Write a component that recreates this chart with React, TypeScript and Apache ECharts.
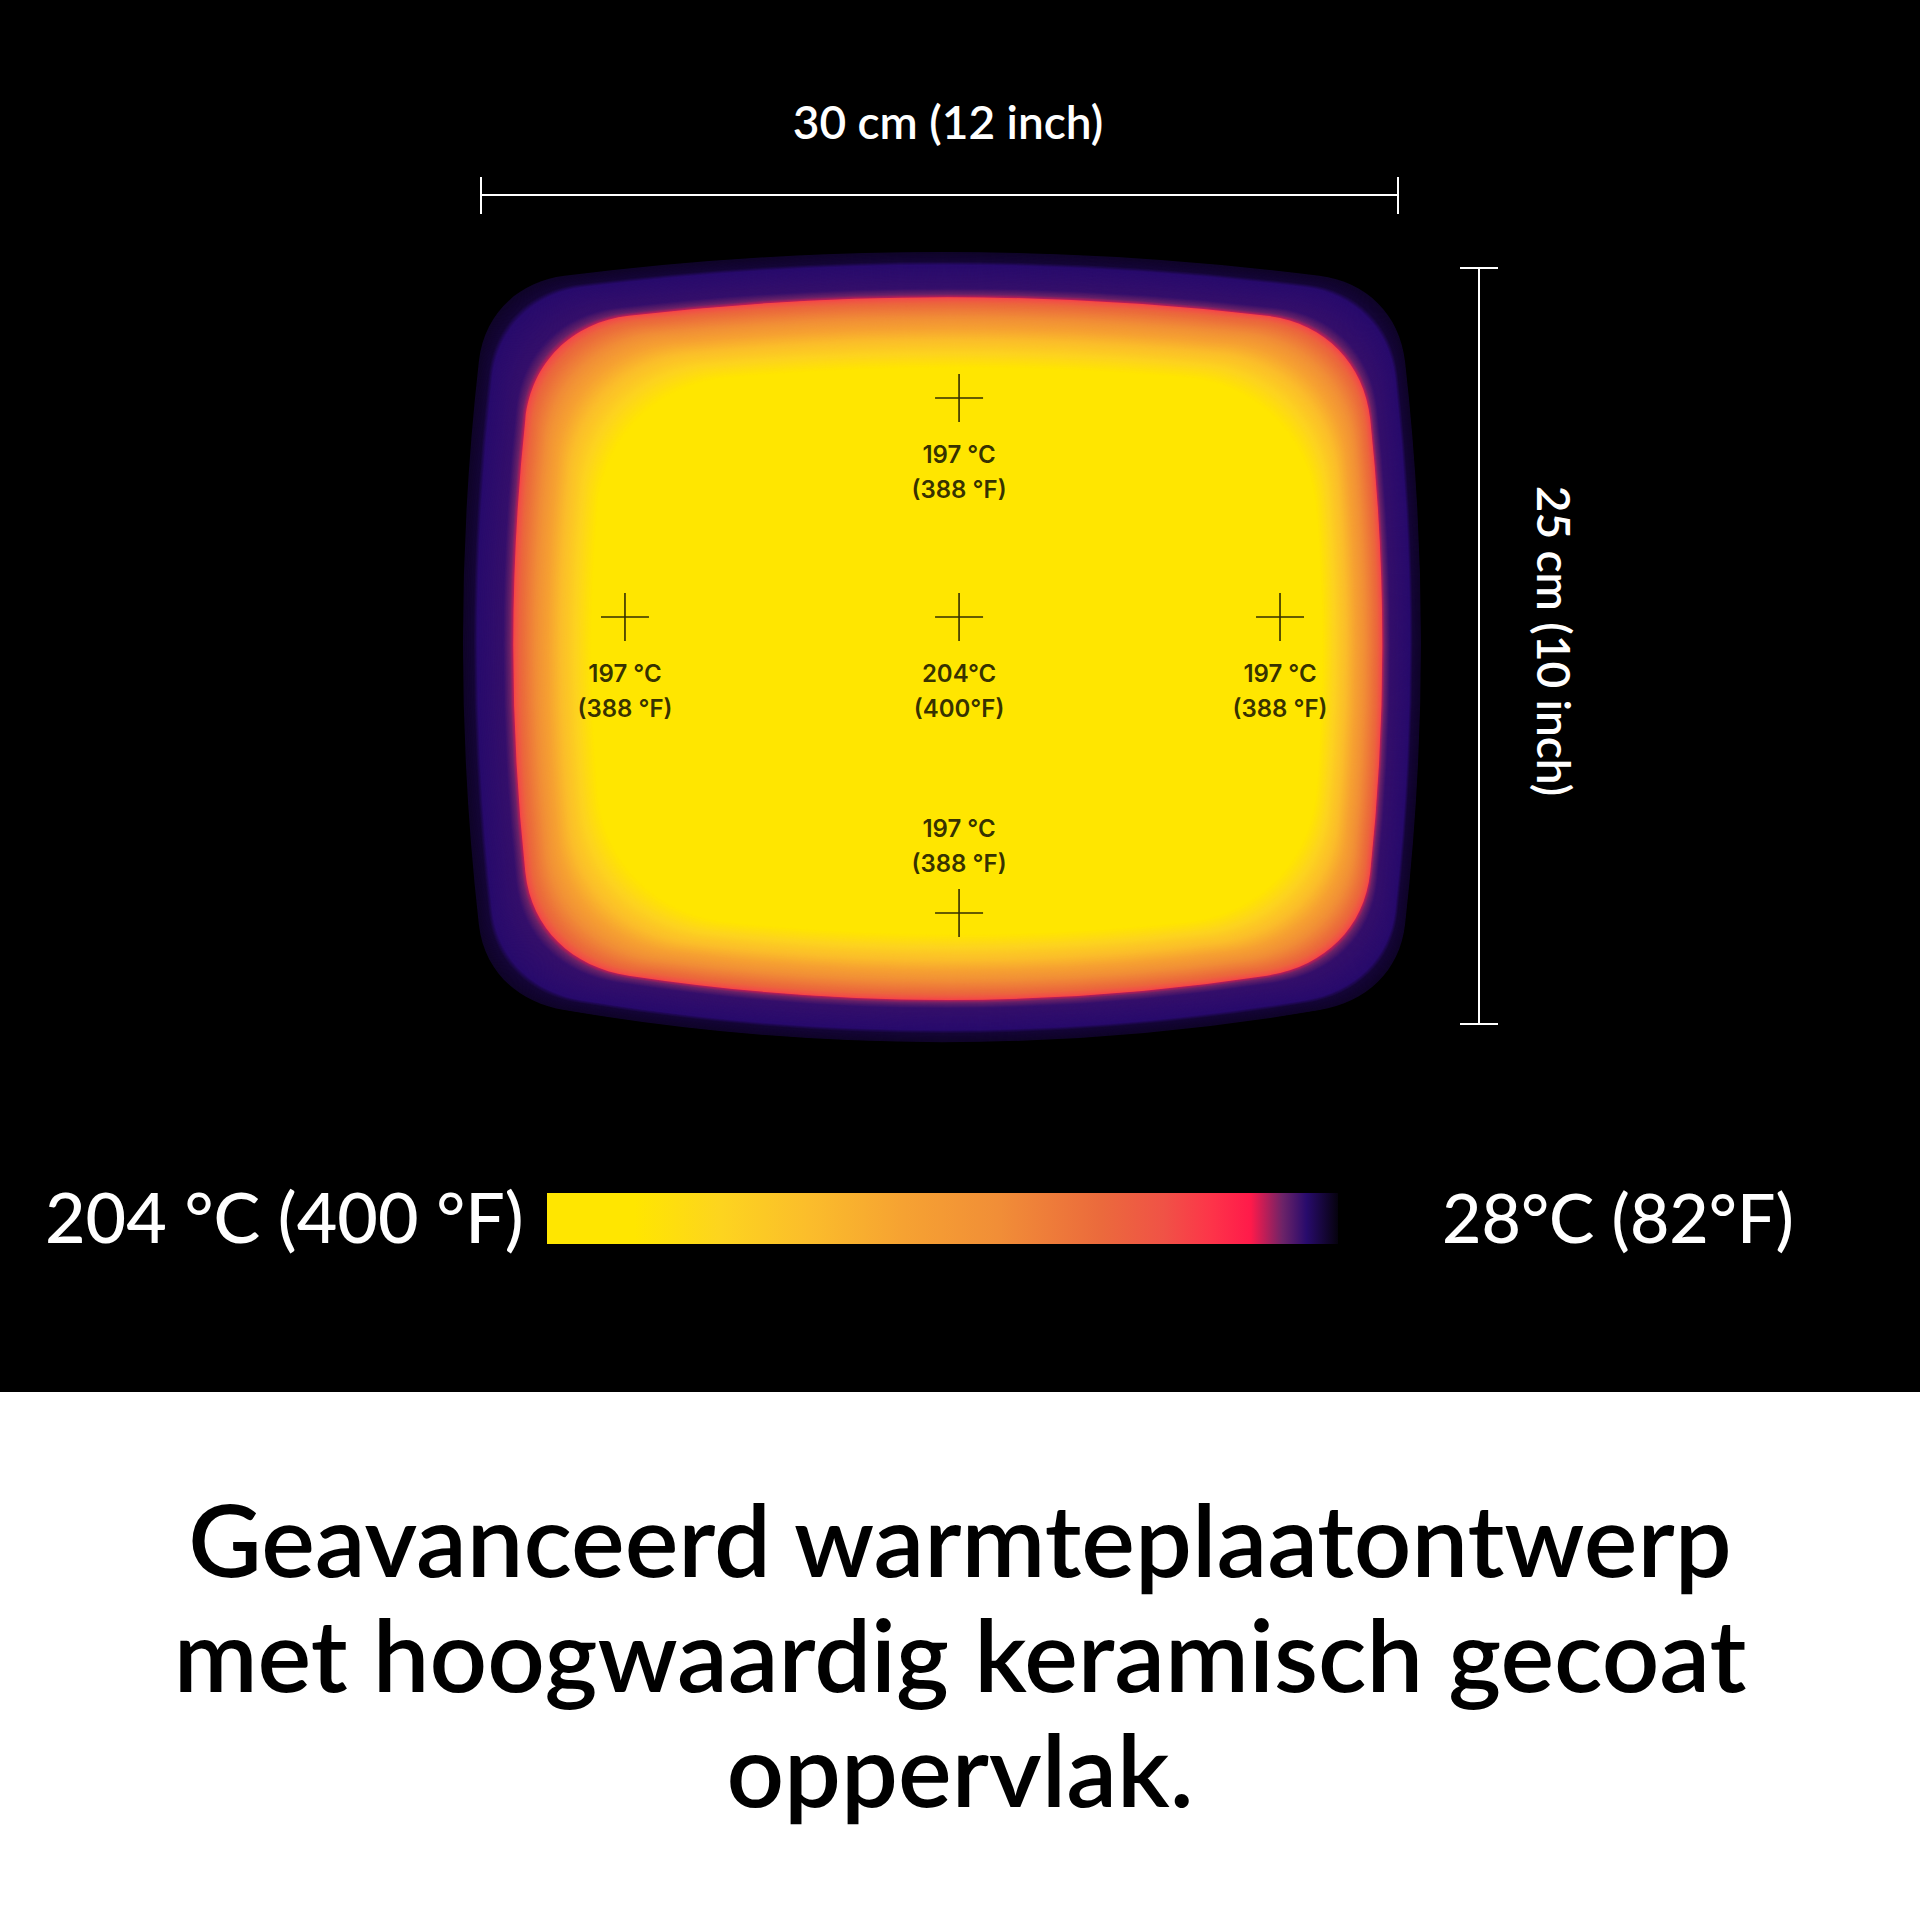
import React, { useEffect, useRef } from 'react';
import * as echarts from 'echarts';

// ---- plate size (cm) and measured points ----
const PLATE_WIDTH_CM = 30;
const PLATE_HEIGHT_CM = 25;
const WIDTH_LABEL = '30 cm (12 inch)';
const HEIGHT_LABEL = '25 cm (10 inch)';

const POINT_X = [15.64, 4.71, 15.64, 26.14, 15.64];
const POINT_Y = [4.3, 11.54, 11.54, 11.54, 21.33];
const POINT_C = ['197 °C', '197 °C', '204°C', '197 °C', '197 °C'];
const POINT_F = ['(388 °F)', '(388 °F)', '(400°F)', '(388 °F)', '(388 °F)'];
const POINT_LABEL_POS = ['bottom', 'bottom', 'bottom', 'bottom', 'top'];

// ---- colour scale (°C -> colour) ----
const SCALE_MAX_LABEL = '204 °C (400 °F)';
const SCALE_MIN_LABEL = '28°C (82°F)';
const SCALE_MAX = 204;
const SCALE_MIN = 28;
const RAMP_TEMP = [204, 184.6, 165.3, 145.9, 124.8, 103.7, 80.8, 66.7, 56.2, 47.4, 40.3, 35.0, 28];
const RAMP_COLOR = ['#ffe600', '#ffe600', '#fdd41f', '#fbbd2b', '#f6a232', '#f18e37', '#eb6a3c', '#f05246', '#fd3449', '#ff1a4a', '#6c2368', '#280b6c', '#06020e'];

// ---- thermal field: temperature against depth from plate edge (0 = edge, 1 = hot core) ----
const PROFILE_DEPTH = [0, 0.08, 0.11, 0.31, 0.36, 0.385, 0.39, 0.44, 0.56, 0.75, 1.0];
const PROFILE_TEMP = [30, 31, 35, 36, 40, 44, 62, 78, 103, 145, 185];

// outlines in cm: left, top, right, bottom, bulgeTop, bulgeRight, bulgeBottom, bulgeLeft, cornerRadius
const OUTER_EDGE = [-0.59, -0.53, 30.75, 25.6, 0.79, 0.52, 1.06, 0.52, 2.8];
const CORE_EDGE = [3.63, 3.31, 27.51, 22.02, 0.33, 0.2, 0.4, 0.2, 4.3];

const TITLE_LINES = ['Geavanceerd warmteplaatontwerp', 'met hoogwaardig keramisch gecoat', 'oppervlak.'];

const LAYER_COUNT = 200;

function interp(xs: number[], ys: number[], x: number): number {
  if (x <= xs[0]) return ys[0];
  for (let i = 1; i < xs.length; i++) {
    if (x <= xs[i]) {
      const f = (x - xs[i - 1]) / (xs[i] - xs[i - 1]);
      return ys[i - 1] + (ys[i] - ys[i - 1]) * f;
    }
  }
  return ys[ys.length - 1];
}

function hexToRgb(h: string) {
  return [parseInt(h.slice(1, 3), 16), parseInt(h.slice(3, 5), 16), parseInt(h.slice(5, 7), 16)];
}

function rampColor(temp: number): string {
  let i = 1;
  while (i < RAMP_TEMP.length - 1 && temp < RAMP_TEMP[i]) i++;
  const t0 = RAMP_TEMP[i - 1];
  const t1 = RAMP_TEMP[i];
  let f = (t0 - temp) / (t0 - t1);
  f = Math.max(0, Math.min(1, f));
  const a = hexToRgb(RAMP_COLOR[i - 1]);
  const b = hexToRgb(RAMP_COLOR[i]);
  const c = a.map((v, k) => Math.round(v + (b[k] - v) * f));
  return `rgb(${c[0]},${c[1]},${c[2]})`;
}

function unit(dx: number, dy: number) {
  const l = Math.hypot(dx, dy) || 1;
  return [dx / l, dy / l];
}

function outlinePath(L: number, T: number, R: number, B: number, bt: number, br: number, bb: number, bl: number, r: number): string {
  const Ls = L + bl, Rs = R - br, Ts = T + bt, Bs = B - bb;
  const k = 0.5523 * r;
  const cx = (Ls + Rs) / 2, cy = (Ts + Bs) / 2;
  const cTop = [cx, Ts - 2 * bt];
  const cRight = [Rs + 2 * br, cy];
  const cBottom = [cx, Bs + 2 * bb];
  const cLeft = [Ls - 2 * bl, cy];
  const pts = {
    tlT: [Ls + r, Ts], trT: [Rs - r, Ts],
    trR: [Rs, Ts + r], brR: [Rs, Bs - r],
    brB: [Rs - r, Bs], blB: [Ls + r, Bs],
    blL: [Ls, Bs - r], tlL: [Ls, Ts + r],
  };
  const corner = (pEnd: number[], cPrev: number[], pStart: number[], cNext: number[]) => {
    const u1 = unit(pEnd[0] - cPrev[0], pEnd[1] - cPrev[1]);
    const u2 = unit(cNext[0] - pStart[0], cNext[1] - pStart[1]);
    const c1 = [pEnd[0] + u1[0] * k, pEnd[1] + u1[1] * k];
    const c2 = [pStart[0] - u2[0] * k, pStart[1] - u2[1] * k];
    return `C${c1[0].toFixed(2)} ${c1[1].toFixed(2)} ${c2[0].toFixed(2)} ${c2[1].toFixed(2)} ${pStart[0].toFixed(2)} ${pStart[1].toFixed(2)}`;
  };
  const q = (c: number[], p: number[]) => `Q${c[0].toFixed(2)} ${c[1].toFixed(2)} ${p[0].toFixed(2)} ${p[1].toFixed(2)}`;
  return [
    `M${pts.tlT[0].toFixed(2)} ${pts.tlT[1].toFixed(2)}`,
    q(cTop, pts.trT),
    corner(pts.trT, cTop, pts.trR, cRight),
    q(cRight, pts.brR),
    corner(pts.brR, cRight, pts.brB, cBottom),
    q(cBottom, pts.blB),
    corner(pts.blB, cBottom, pts.blL, cLeft),
    q(cLeft, pts.tlL),
    corner(pts.tlL, cLeft, pts.tlT, cTop),
    'Z',
  ].join(' ');
}

const GRID_LEFT = 481;
const GRID_TOP = 268;
const GRID_W = 917;
const GRID_H = 756;

export default function App() {
  const ref = useRef<HTMLDivElement>(null);
  useEffect(() => {
    if (!ref.current) return;
    const chart = echarts.init(ref.current, undefined, { renderer: 'svg' });

    const layers: number[][] = [];
    for (let i = 0; i <= LAYER_COUNT; i++) {
      const t = i / LAYER_COUNT;
      layers.push([t, interp(PROFILE_DEPTH, PROFILE_TEMP, t)]);
    }

    const stops = RAMP_TEMP.map((tmp, i) => ({ offset: (SCALE_MAX - tmp) / (SCALE_MAX - SCALE_MIN), color: RAMP_COLOR[i] }));

    const font = (w: number | string, s: number, fam = 'Lato') => `${w} ${s}px ${fam}`;
    const txt = (text: string, x: number, y: number, f: string, fill: string, align = 'center', extra: any = {}) => ({
      type: 'text', x, y, z: 10, silent: true, ...extra,
      style: { text, font: f, fill, align, textAlign: align, verticalAlign: 'middle', textVerticalAlign: 'middle' },
    });

    const barX = 547, barY = 1193, barW = 791, barH = 51;

    chart.setOption({
      animation: false,
      backgroundColor: '#000',
      grid: { left: GRID_LEFT, top: GRID_TOP, width: GRID_W, height: GRID_H },
      xAxis: { type: 'value', min: 0, max: PLATE_WIDTH_CM, show: false },
      yAxis: { type: 'value', min: 0, max: PLATE_HEIGHT_CM, inverse: true, show: false },
      graphic: [
        { type: 'rect', z: 1, silent: true, shape: { x: 0, y: 1392, width: 1920, height: 528 }, style: { fill: '#fff' } },
        // width dimension
        { type: 'line', z: 10, silent: true, shape: { x1: GRID_LEFT, y1: 195, x2: GRID_LEFT + GRID_W, y2: 195 }, style: { stroke: '#fff', lineWidth: 2 } },
        { type: 'line', z: 10, silent: true, shape: { x1: GRID_LEFT, y1: 177, x2: GRID_LEFT, y2: 214 }, style: { stroke: '#fff', lineWidth: 2 } },
        { type: 'line', z: 10, silent: true, shape: { x1: GRID_LEFT + GRID_W, y1: 177, x2: GRID_LEFT + GRID_W, y2: 214 }, style: { stroke: '#fff', lineWidth: 2 } },
        // height dimension
        { type: 'line', z: 10, silent: true, shape: { x1: 1479, y1: GRID_TOP, x2: 1479, y2: GRID_TOP + GRID_H }, style: { stroke: '#fff', lineWidth: 2 } },
        { type: 'line', z: 10, silent: true, shape: { x1: 1460, y1: GRID_TOP, x2: 1498, y2: GRID_TOP }, style: { stroke: '#fff', lineWidth: 2 } },
        { type: 'line', z: 10, silent: true, shape: { x1: 1460, y1: GRID_TOP + GRID_H, x2: 1498, y2: GRID_TOP + GRID_H }, style: { stroke: '#fff', lineWidth: 2 } },
        txt(WIDTH_LABEL, 948, 121, font(600, 46), '#fff'),
        txt(HEIGHT_LABEL, 1554, 641, font(600, 46), '#fff', 'center', { rotation: -Math.PI / 2 }),
        // colour scale
        {
          type: 'rect', z: 10, silent: true,
          shape: { x: barX, y: barY, width: barW, height: barH },
          style: { fill: { type: 'linear', x: 0, y: 0, x2: 1, y2: 0, colorStops: stops } },
        },
        txt(SCALE_MAX_LABEL, 45, 1216, font(500, 70), '#fff', 'left'),
        txt(SCALE_MIN_LABEL, 1442, 1216, font(500, 68), '#fff', 'left'),
        // title
        ...TITLE_LINES.map((line, i) => txt(line, 960, 1538 + i * 115, font(600, 101), '#000')),
      ],
      series: [
        {
          type: 'custom',
          z: 1,
          silent: true,
          clip: false,
          data: layers,
          renderItem: (params: any, api: any) => {
            const t = api.value(0);
            const temp = api.value(1);
            const g = OUTER_EDGE.map((o, k) => o + (CORE_EDGE[k] - o) * t);
            const tl = api.coord([g[0], g[1]]);
            const br = api.coord([g[2], g[3]]);
            const bt = api.size([0, g[4]])[1];
            const bR = api.size([g[5], 0])[0];
            const bb = api.size([0, g[6]])[1];
            const bl = api.size([g[7], 0])[0];
            const r = api.size([g[8], 0])[0];
            return {
              type: 'path',
              shape: { pathData: outlinePath(tl[0], tl[1], br[0], br[1], bt, bR, bb, bl, r) },
              style: { fill: rampColor(temp) },
            };
          },
        },
        {
          type: 'scatter',
          z: 5,
          silent: true,
          symbol: 'path://M24 0L24 48M0 24L48 24',
          symbolSize: 48,
          itemStyle: { color: '#000', borderColor: '#000', borderWidth: 1.6 },
          emphasis: { disabled: true },
          label: {
            show: true,
            formatter: '{b}',
            color: '#000',
            fontFamily: 'Inter',
            fontSize: 24,
            fontWeight: 600,
            lineHeight: 35,
            align: 'center',
          },
          data: POINT_X.map((x, i) => ({
            value: [x, POINT_Y[i]],
            name: POINT_C[i] + '\n' + POINT_F[i],
            label: { position: POINT_LABEL_POS[i], distance: POINT_LABEL_POS[i] === 'top' ? 7 : 14 },
          })),
        },
      ],
    });
    return () => chart.dispose();
  }, []);
  return <div ref={ref} style={{ position: 'absolute', left: 0, top: 0, width: 1920, height: 1920 }} />;
}
